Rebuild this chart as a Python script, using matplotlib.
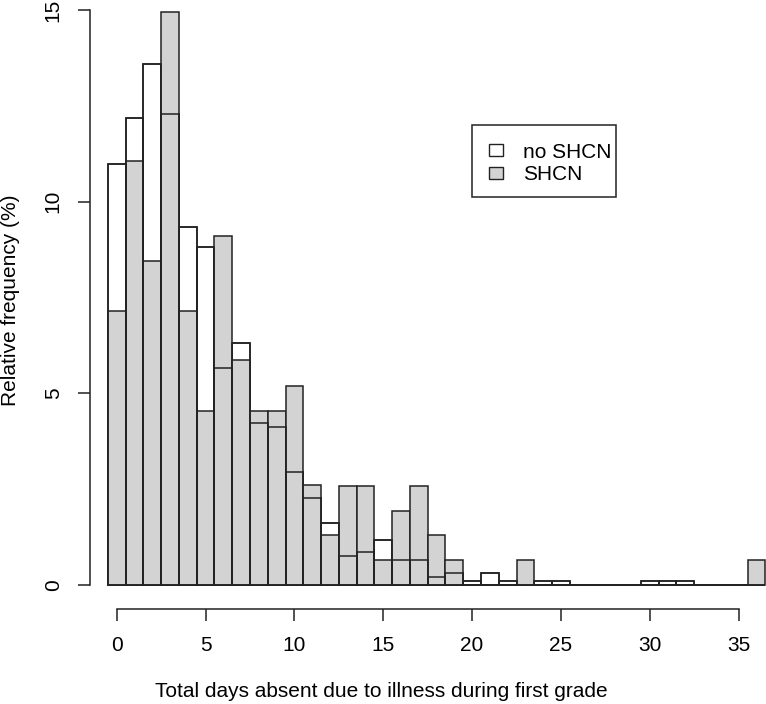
import matplotlib
matplotlib.use("Agg")
import matplotlib.pyplot as plt
from matplotlib.patches import Rectangle

plt.rcParams['font.family'] = ['Liberation Sans', 'DejaVu Sans']

days = list(range(0, 37))
no_shcn = [10.99, 12.19, 13.60, 12.29, 9.35, 8.81, 5.65, 6.31, 4.23, 4.13,
           2.94, 2.27, 1.62, 0.76, 0.86, 1.18, 0.65, 0.65, 0.21, 0.32,
           0.10, 0.32, 0.10, 0.00, 0.10, 0.10, 0.00, 0.00, 0.00, 0.00,
           0.10, 0.10, 0.10, 0.00, 0.00, 0.00, 0.00]
shcn = [7.16, 11.05, 8.45, 14.96, 7.16, 4.55, 9.10, 5.86, 4.55, 4.55,
        5.20, 2.60, 1.30, 2.59, 2.59, 0.65, 1.94, 2.59, 1.30, 0.65,
        0.00, 0.00, 0.00, 0.65, 0.00, 0.00, 0.00, 0.00, 0.00, 0.00,
        0.00, 0.00, 0.00, 0.00, 0.00, 0.00, 0.65]
series_labels = ["no SHCN", "SHCN"]
x_ticks = [0, 5, 10, 15, 20, 25, 30, 35]
y_ticks = [0, 5, 10, 15]
xlabel = "Total days absent due to illness during first grade"
ylabel = "Relative frequency (%)"

W, H = 766, 704
fig = plt.figure(figsize=(W / 100, H / 100), dpi=100)
FS = 15
EDGE = "#222222"

def fx(px):
    return px / W

def fy(py):
    return 1 - py / H

# axes region in pixels: left=90, right=766, top=0, bottom=609
left_px, right_px, top_px, bottom_px = 90, 766, 0, 609
ax = fig.add_axes([left_px / W, (H - bottom_px) / H,
                   (right_px - left_px) / W, (bottom_px - top_px) / H])

x0, xs = 116.7, 17.77
y0, ys = 585.0, 38.33
ax.set_xlim((left_px - x0) / xs, (right_px - x0) / xs)
ax.set_ylim((y0 - bottom_px) / ys, (y0 - top_px) / ys)

gray = "#D3D3D3"
lw = 1.1
ax.bar(days, no_shcn, width=1.0, color="white", edgecolor=EDGE, linewidth=lw, zorder=2)
ax.bar(days, shcn, width=1.0, color=gray, edgecolor=EDGE, linewidth=lw, zorder=3)
ax.bar(days, no_shcn, width=1.0, color="none", edgecolor=EDGE, linewidth=lw, zorder=4)

for s in ["top", "right"]:
    ax.spines[s].set_visible(False)
ax.spines["left"].set_bounds(0, 15)
ax.spines["bottom"].set_bounds(0, 35)
for s in ["left", "bottom"]:
    ax.spines[s].set_linewidth(1.1)
    ax.spines[s].set_color(EDGE)

ax.set_xticks(x_ticks)
ax.set_yticks(y_ticks)
ax.set_yticklabels([str(v) for v in y_ticks], rotation=90, va="center")
ax.tick_params(axis="both", direction="out", length=8.6, width=1.1,
               color=EDGE, labelsize=FS, labelcolor="black")
ax.tick_params(axis="x", pad=11.0)
ax.tick_params(axis="y", pad=11.0)

fig.text(fx(11), fy(300), ylabel, rotation=90, ha="center", va="center", fontsize=FS)
fig.text(fx(381), fy(697), xlabel, ha="center", va="baseline", fontsize=FS)

# legend (R-style boxed legend)
fig.add_artist(Rectangle((fx(472), fy(197)), fx(616) - fx(472), fy(125) - fy(197),
                         transform=fig.transFigure, facecolor="white",
                         edgecolor=EDGE, linewidth=1.1, zorder=10))
for i, (lab, col) in enumerate(zip(series_labels, ["white", gray])):
    cy = 150 + 23 * i
    fig.add_artist(Rectangle((fx(489), fy(cy + 6)), fx(503) - fx(489), fy(cy - 6) - fy(cy + 6),
                             transform=fig.transFigure, facecolor=col,
                             edgecolor=EDGE, linewidth=1.0, zorder=11))
    fig.text(fx(523), fy(cy + 7.5), lab, ha="left", va="baseline", fontsize=FS, zorder=12)

fig.savefig("out.png", dpi=100)
